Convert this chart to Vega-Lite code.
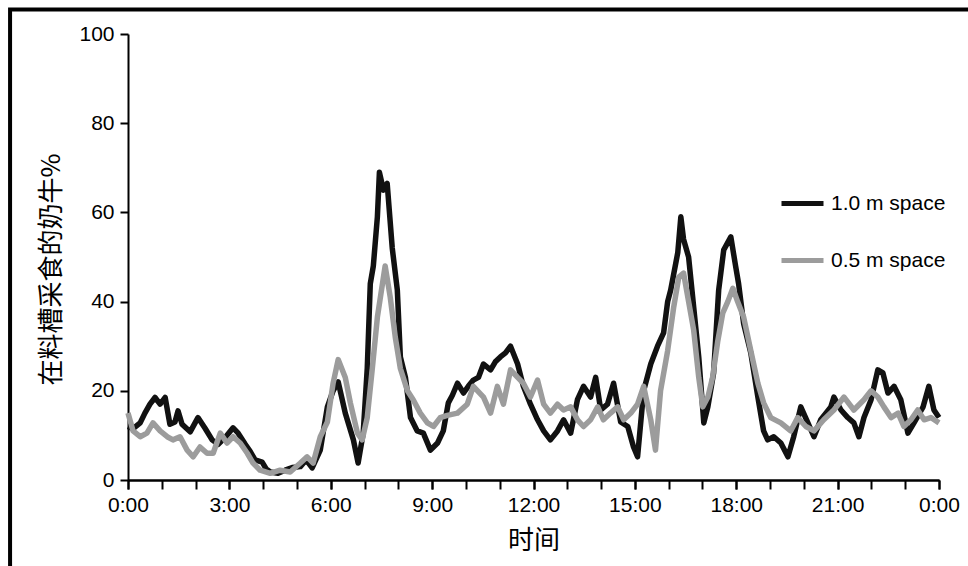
{
  "$schema": "https://vega.github.io/schema/vega-lite/v6.json",
  "width": 811,
  "height": 446,
  "autosize": "none",
  "padding": {"left": 128, "top": 34, "right": 29, "bottom": 86},
  "background": "white",
  "config": {
    "view": {"stroke": null},
    "axis": {
      "labelFont": "Liberation Sans",
      "labelFontSize": 21,
      "labelColor": "black",
      "labelOverlap": false,
      "titleFont": "Noto Sans CJK SC",
      "titleFontSize": 26,
      "titleFontWeight": "normal",
      "titleColor": "black",
      "domainColor": "black",
      "domainWidth": 2,
      "tickColor": "black",
      "tickWidth": 2,
      "grid": false
    },
    "legend": {
      "labelFont": "Liberation Sans",
      "labelFontSize": 21,
      "labelColor": "black"
    }
  },
  "datasets": {
    "cows": [
      {"t":0.00,"v":12,"s":"1.0 m space"},{"t":0.15,"v":11.5,"s":"1.0 m space"},{"t":0.36,"v":12.8,"s":"1.0 m space"},{"t":0.50,"v":15,"s":"1.0 m space"},{"t":0.65,"v":17,"s":"1.0 m space"},{"t":0.80,"v":18.5,"s":"1.0 m space"},{"t":0.95,"v":17,"s":"1.0 m space"},{"t":1.10,"v":18.5,"s":"1.0 m space"},{"t":1.24,"v":12.5,"s":"1.0 m space"},{"t":1.39,"v":13,"s":"1.0 m space"},{"t":1.48,"v":15.5,"s":"1.0 m space"},{"t":1.60,"v":12.5,"s":"1.0 m space"},{"t":1.84,"v":10.8,"s":"1.0 m space"},{"t":2.07,"v":14,"s":"1.0 m space"},{"t":2.28,"v":11.6,"s":"1.0 m space"},{"t":2.49,"v":9,"s":"1.0 m space"},{"t":2.67,"v":8,"s":"1.0 m space"},{"t":2.87,"v":9.5,"s":"1.0 m space"},{"t":3.11,"v":11.7,"s":"1.0 m space"},{"t":3.26,"v":10.5,"s":"1.0 m space"},{"t":3.47,"v":8,"s":"1.0 m space"},{"t":3.61,"v":6.5,"s":"1.0 m space"},{"t":3.76,"v":4.5,"s":"1.0 m space"},{"t":3.97,"v":4,"s":"1.0 m space"},{"t":4.09,"v":2.5,"s":"1.0 m space"},{"t":4.21,"v":1.8,"s":"1.0 m space"},{"t":4.44,"v":1.5,"s":"1.0 m space"},{"t":4.65,"v":2.2,"s":"1.0 m space"},{"t":4.86,"v":2.8,"s":"1.0 m space"},{"t":5.10,"v":3,"s":"1.0 m space"},{"t":5.27,"v":4.5,"s":"1.0 m space"},{"t":5.45,"v":2.7,"s":"1.0 m space"},{"t":5.69,"v":6.7,"s":"1.0 m space"},{"t":5.90,"v":16.4,"s":"1.0 m space"},{"t":6.07,"v":20,"s":"1.0 m space"},{"t":6.22,"v":22,"s":"1.0 m space"},{"t":6.43,"v":15,"s":"1.0 m space"},{"t":6.67,"v":9,"s":"1.0 m space"},{"t":6.81,"v":3.8,"s":"1.0 m space"},{"t":6.96,"v":10.5,"s":"1.0 m space"},{"t":7.08,"v":25,"s":"1.0 m space"},{"t":7.17,"v":44,"s":"1.0 m space"},{"t":7.26,"v":48,"s":"1.0 m space"},{"t":7.38,"v":59,"s":"1.0 m space"},{"t":7.44,"v":69,"s":"1.0 m space"},{"t":7.56,"v":65,"s":"1.0 m space"},{"t":7.67,"v":66.5,"s":"1.0 m space"},{"t":7.82,"v":52,"s":"1.0 m space"},{"t":7.97,"v":42.6,"s":"1.0 m space"},{"t":8.06,"v":27.6,"s":"1.0 m space"},{"t":8.21,"v":23,"s":"1.0 m space"},{"t":8.36,"v":14,"s":"1.0 m space"},{"t":8.56,"v":11,"s":"1.0 m space"},{"t":8.74,"v":10.5,"s":"1.0 m space"},{"t":8.95,"v":6.7,"s":"1.0 m space"},{"t":9.16,"v":8.3,"s":"1.0 m space"},{"t":9.33,"v":11,"s":"1.0 m space"},{"t":9.48,"v":17.3,"s":"1.0 m space"},{"t":9.60,"v":19,"s":"1.0 m space"},{"t":9.75,"v":21.7,"s":"1.0 m space"},{"t":9.93,"v":19.5,"s":"1.0 m space"},{"t":10.07,"v":21,"s":"1.0 m space"},{"t":10.22,"v":22.4,"s":"1.0 m space"},{"t":10.37,"v":23,"s":"1.0 m space"},{"t":10.52,"v":26,"s":"1.0 m space"},{"t":10.73,"v":24.7,"s":"1.0 m space"},{"t":10.87,"v":26.5,"s":"1.0 m space"},{"t":11.02,"v":27.6,"s":"1.0 m space"},{"t":11.17,"v":28.5,"s":"1.0 m space"},{"t":11.32,"v":30,"s":"1.0 m space"},{"t":11.53,"v":26,"s":"1.0 m space"},{"t":11.70,"v":21,"s":"1.0 m space"},{"t":11.91,"v":17,"s":"1.0 m space"},{"t":12.12,"v":13.5,"s":"1.0 m space"},{"t":12.30,"v":11,"s":"1.0 m space"},{"t":12.50,"v":9,"s":"1.0 m space"},{"t":12.71,"v":11,"s":"1.0 m space"},{"t":12.89,"v":13.5,"s":"1.0 m space"},{"t":13.10,"v":10.5,"s":"1.0 m space"},{"t":13.30,"v":18,"s":"1.0 m space"},{"t":13.48,"v":21,"s":"1.0 m space"},{"t":13.69,"v":18.6,"s":"1.0 m space"},{"t":13.84,"v":23,"s":"1.0 m space"},{"t":13.99,"v":15.7,"s":"1.0 m space"},{"t":14.19,"v":17,"s":"1.0 m space"},{"t":14.37,"v":21.7,"s":"1.0 m space"},{"t":14.58,"v":13,"s":"1.0 m space"},{"t":14.79,"v":12,"s":"1.0 m space"},{"t":14.96,"v":7.4,"s":"1.0 m space"},{"t":15.08,"v":5.2,"s":"1.0 m space"},{"t":15.26,"v":20,"s":"1.0 m space"},{"t":15.47,"v":26,"s":"1.0 m space"},{"t":15.67,"v":30,"s":"1.0 m space"},{"t":15.85,"v":33,"s":"1.0 m space"},{"t":15.97,"v":40,"s":"1.0 m space"},{"t":16.06,"v":42.6,"s":"1.0 m space"},{"t":16.27,"v":51,"s":"1.0 m space"},{"t":16.36,"v":59,"s":"1.0 m space"},{"t":16.44,"v":54,"s":"1.0 m space"},{"t":16.59,"v":50,"s":"1.0 m space"},{"t":16.74,"v":38.8,"s":"1.0 m space"},{"t":16.89,"v":27.6,"s":"1.0 m space"},{"t":17.04,"v":12.8,"s":"1.0 m space"},{"t":17.16,"v":16.4,"s":"1.0 m space"},{"t":17.33,"v":24,"s":"1.0 m space"},{"t":17.48,"v":42.6,"s":"1.0 m space"},{"t":17.63,"v":51.6,"s":"1.0 m space"},{"t":17.84,"v":54.5,"s":"1.0 m space"},{"t":17.98,"v":48,"s":"1.0 m space"},{"t":18.07,"v":44,"s":"1.0 m space"},{"t":18.22,"v":35,"s":"1.0 m space"},{"t":18.43,"v":28.5,"s":"1.0 m space"},{"t":18.64,"v":18.6,"s":"1.0 m space"},{"t":18.81,"v":11,"s":"1.0 m space"},{"t":18.93,"v":9,"s":"1.0 m space"},{"t":19.11,"v":9.7,"s":"1.0 m space"},{"t":19.32,"v":8.3,"s":"1.0 m space"},{"t":19.53,"v":5.2,"s":"1.0 m space"},{"t":19.70,"v":9.7,"s":"1.0 m space"},{"t":19.91,"v":16.4,"s":"1.0 m space"},{"t":20.12,"v":12.8,"s":"1.0 m space"},{"t":20.30,"v":9.7,"s":"1.0 m space"},{"t":20.50,"v":13.5,"s":"1.0 m space"},{"t":20.80,"v":16.4,"s":"1.0 m space"},{"t":20.89,"v":18.6,"s":"1.0 m space"},{"t":21.10,"v":15.7,"s":"1.0 m space"},{"t":21.30,"v":14,"s":"1.0 m space"},{"t":21.48,"v":12.8,"s":"1.0 m space"},{"t":21.63,"v":9.7,"s":"1.0 m space"},{"t":21.78,"v":14,"s":"1.0 m space"},{"t":21.99,"v":18,"s":"1.0 m space"},{"t":22.19,"v":24.7,"s":"1.0 m space"},{"t":22.34,"v":24,"s":"1.0 m space"},{"t":22.49,"v":19.5,"s":"1.0 m space"},{"t":22.67,"v":21,"s":"1.0 m space"},{"t":22.87,"v":18,"s":"1.0 m space"},{"t":23.08,"v":10.5,"s":"1.0 m space"},{"t":23.26,"v":12.8,"s":"1.0 m space"},{"t":23.53,"v":16.4,"s":"1.0 m space"},{"t":23.70,"v":21,"s":"1.0 m space"},{"t":23.85,"v":15.7,"s":"1.0 m space"},{"t":24.00,"v":14,"s":"1.0 m space"},
      {"t":0.00,"v":15,"s":"0.5 m space"},{"t":0.15,"v":11,"s":"0.5 m space"},{"t":0.36,"v":9.7,"s":"0.5 m space"},{"t":0.56,"v":10.5,"s":"0.5 m space"},{"t":0.74,"v":12.8,"s":"0.5 m space"},{"t":0.95,"v":11,"s":"0.5 m space"},{"t":1.16,"v":9.7,"s":"0.5 m space"},{"t":1.33,"v":9,"s":"0.5 m space"},{"t":1.54,"v":9.7,"s":"0.5 m space"},{"t":1.75,"v":6.7,"s":"0.5 m space"},{"t":1.93,"v":5.2,"s":"0.5 m space"},{"t":2.13,"v":7.4,"s":"0.5 m space"},{"t":2.34,"v":6,"s":"0.5 m space"},{"t":2.52,"v":6,"s":"0.5 m space"},{"t":2.73,"v":10.5,"s":"0.5 m space"},{"t":2.93,"v":8.3,"s":"0.5 m space"},{"t":3.11,"v":9.7,"s":"0.5 m space"},{"t":3.32,"v":8.3,"s":"0.5 m space"},{"t":3.53,"v":6,"s":"0.5 m space"},{"t":3.70,"v":3.8,"s":"0.5 m space"},{"t":3.91,"v":2.2,"s":"0.5 m space"},{"t":4.21,"v":1.5,"s":"0.5 m space"},{"t":4.50,"v":2.2,"s":"0.5 m space"},{"t":4.80,"v":1.8,"s":"0.5 m space"},{"t":5.10,"v":3.8,"s":"0.5 m space"},{"t":5.30,"v":5.2,"s":"0.5 m space"},{"t":5.48,"v":3.8,"s":"0.5 m space"},{"t":5.69,"v":9.7,"s":"0.5 m space"},{"t":5.90,"v":13,"s":"0.5 m space"},{"t":6.07,"v":21.7,"s":"0.5 m space"},{"t":6.22,"v":27,"s":"0.5 m space"},{"t":6.43,"v":23,"s":"0.5 m space"},{"t":6.58,"v":17.3,"s":"0.5 m space"},{"t":6.79,"v":10.5,"s":"0.5 m space"},{"t":6.93,"v":9,"s":"0.5 m space"},{"t":7.08,"v":14,"s":"0.5 m space"},{"t":7.23,"v":25,"s":"0.5 m space"},{"t":7.38,"v":36.5,"s":"0.5 m space"},{"t":7.53,"v":44,"s":"0.5 m space"},{"t":7.61,"v":48,"s":"0.5 m space"},{"t":7.76,"v":41,"s":"0.5 m space"},{"t":7.91,"v":32,"s":"0.5 m space"},{"t":8.06,"v":25,"s":"0.5 m space"},{"t":8.27,"v":20,"s":"0.5 m space"},{"t":8.44,"v":18,"s":"0.5 m space"},{"t":8.65,"v":15,"s":"0.5 m space"},{"t":8.86,"v":12.8,"s":"0.5 m space"},{"t":9.04,"v":12,"s":"0.5 m space"},{"t":9.24,"v":14,"s":"0.5 m space"},{"t":9.45,"v":14.5,"s":"0.5 m space"},{"t":9.75,"v":15,"s":"0.5 m space"},{"t":10.04,"v":17,"s":"0.5 m space"},{"t":10.22,"v":21,"s":"0.5 m space"},{"t":10.52,"v":18.6,"s":"0.5 m space"},{"t":10.73,"v":15,"s":"0.5 m space"},{"t":10.93,"v":21,"s":"0.5 m space"},{"t":11.11,"v":17,"s":"0.5 m space"},{"t":11.32,"v":24.7,"s":"0.5 m space"},{"t":11.53,"v":23,"s":"0.5 m space"},{"t":11.70,"v":21.7,"s":"0.5 m space"},{"t":11.91,"v":18.6,"s":"0.5 m space"},{"t":12.12,"v":22.4,"s":"0.5 m space"},{"t":12.30,"v":17,"s":"0.5 m space"},{"t":12.50,"v":15,"s":"0.5 m space"},{"t":12.71,"v":17,"s":"0.5 m space"},{"t":12.89,"v":15.7,"s":"0.5 m space"},{"t":13.10,"v":16.4,"s":"0.5 m space"},{"t":13.30,"v":13.5,"s":"0.5 m space"},{"t":13.48,"v":12,"s":"0.5 m space"},{"t":13.69,"v":13.5,"s":"0.5 m space"},{"t":13.90,"v":16.4,"s":"0.5 m space"},{"t":14.07,"v":13.5,"s":"0.5 m space"},{"t":14.28,"v":15,"s":"0.5 m space"},{"t":14.49,"v":16.4,"s":"0.5 m space"},{"t":14.67,"v":13.5,"s":"0.5 m space"},{"t":14.88,"v":15,"s":"0.5 m space"},{"t":15.08,"v":17,"s":"0.5 m space"},{"t":15.26,"v":21,"s":"0.5 m space"},{"t":15.47,"v":13.5,"s":"0.5 m space"},{"t":15.61,"v":6.7,"s":"0.5 m space"},{"t":15.76,"v":20,"s":"0.5 m space"},{"t":15.97,"v":29,"s":"0.5 m space"},{"t":16.15,"v":38.8,"s":"0.5 m space"},{"t":16.30,"v":45.5,"s":"0.5 m space"},{"t":16.44,"v":46.4,"s":"0.5 m space"},{"t":16.59,"v":40,"s":"0.5 m space"},{"t":16.74,"v":33.6,"s":"0.5 m space"},{"t":16.89,"v":23,"s":"0.5 m space"},{"t":17.01,"v":16.4,"s":"0.5 m space"},{"t":17.16,"v":18.6,"s":"0.5 m space"},{"t":17.30,"v":23,"s":"0.5 m space"},{"t":17.45,"v":31,"s":"0.5 m space"},{"t":17.60,"v":37.4,"s":"0.5 m space"},{"t":17.75,"v":40,"s":"0.5 m space"},{"t":17.90,"v":43,"s":"0.5 m space"},{"t":18.04,"v":40,"s":"0.5 m space"},{"t":18.22,"v":36.5,"s":"0.5 m space"},{"t":18.43,"v":29,"s":"0.5 m space"},{"t":18.64,"v":21.7,"s":"0.5 m space"},{"t":18.81,"v":17.3,"s":"0.5 m space"},{"t":19.02,"v":14,"s":"0.5 m space"},{"t":19.32,"v":12.8,"s":"0.5 m space"},{"t":19.61,"v":11,"s":"0.5 m space"},{"t":19.82,"v":14,"s":"0.5 m space"},{"t":20.06,"v":12,"s":"0.5 m space"},{"t":20.30,"v":11,"s":"0.5 m space"},{"t":20.59,"v":13.5,"s":"0.5 m space"},{"t":20.89,"v":15.7,"s":"0.5 m space"},{"t":21.19,"v":18.6,"s":"0.5 m space"},{"t":21.48,"v":15.7,"s":"0.5 m space"},{"t":21.78,"v":18,"s":"0.5 m space"},{"t":21.99,"v":20,"s":"0.5 m space"},{"t":22.19,"v":18.6,"s":"0.5 m space"},{"t":22.37,"v":16.4,"s":"0.5 m space"},{"t":22.58,"v":14,"s":"0.5 m space"},{"t":22.79,"v":15,"s":"0.5 m space"},{"t":22.96,"v":12,"s":"0.5 m space"},{"t":23.17,"v":13.5,"s":"0.5 m space"},{"t":23.37,"v":15.7,"s":"0.5 m space"},{"t":23.56,"v":13.5,"s":"0.5 m space"},{"t":23.76,"v":14,"s":"0.5 m space"},{"t":24.00,"v":12.8,"s":"0.5 m space"}
    ],
    "frame": [{"x1": -3.49, "x2": 26, "y1": 105.5, "y2": -30}]
  },
  "resolve": {"axis": {"x": "independent"}},
  "layer": [
    {
      "data": {"name": "frame"},
      "mark": {"type": "rect", "fill": null, "stroke": "black", "strokeWidth": 4, "clip": false},
      "encoding": {
        "x": {
          "field": "x1",
          "type": "quantitative",
          "axis": {
            "orient": "bottom",
            "title": null,
            "values": [0,1,2,3,4,5,6,7,8,9,10,11,12,13,14,15,16,17,18,19,20,21,22,23,24],
            "labels": false,
            "tickSize": 9
          }
        },
        "x2": {"field": "x2"},
        "y": {"field": "y1", "type": "quantitative"},
        "y2": {"field": "y2"}
      }
    },
    {
      "data": {"name": "cows"},
      "mark": {"type": "line", "strokeWidth": 5.5, "strokeJoin": "round"},
      "encoding": {
        "x": {
          "field": "t",
          "type": "quantitative",
          "scale": {"domain": [0, 24], "nice": false, "zero": false},
          "axis": {
            "orient": "bottom",
            "title": "时间",
            "values": [0, 3, 6, 9, 12, 15, 18, 21, 24],
            "labelExpr": "(datum.value % 24) + ':00'",
            "labelOverlap": false,
            "tickSize": 9,
            "labelPadding": 5,
            "labelFlush": false,
            "titlePadding": 12
          }
        },
        "y": {
          "field": "v",
          "type": "quantitative",
          "scale": {"domain": [0, 100], "nice": false},
          "axis": {
            "title": "在料槽采食的奶牛%",
            "values": [0, 20, 40, 60, 80, 100],
            "tickSize": 8,
            "labelPadding": 6,
            "titlePadding": 14,
            "titleY": 235
          }
        },
        "color": {
          "field": "s",
          "type": "nominal",
          "sort": ["1.0 m space", "0.5 m space"],
          "scale": {"domain": ["1.0 m space", "0.5 m space"], "range": ["#111111", "#9c9c9c"]},
          "legend": {
            "title": null,
            "orient": "none",
            "legendX": 651,
            "legendY": 146,
            "symbolType": "stroke",
            "symbolSize": 1764,
            "symbolStrokeWidth": 5,
            "labelOffset": 5,
            "rowPadding": 23
          }
        }
      }
    }
  ]
}
